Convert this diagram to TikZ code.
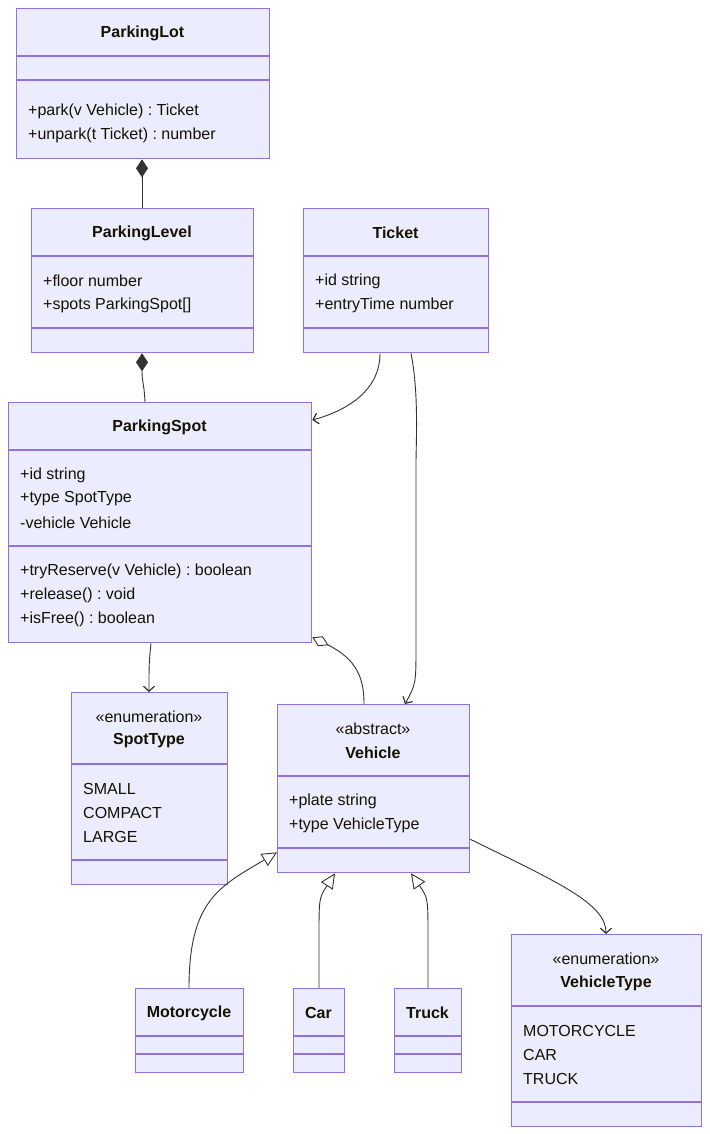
\documentclass[tikz,border=0pt]{standalone}
\usepackage{fontspec}
\setmainfont{Liberation Sans}
\usetikzlibrary{arrows.meta,calc}
\definecolor{boxfill}{HTML}{ECECFF}
\definecolor{boxline}{HTML}{9370DB}
\definecolor{edge}{HTML}{333333}
\definecolor{txt}{HTML}{131300}
\frenchspacing
\tikzset{
  cls/.style={draw=boxline, fill=boxfill, line width=1.3pt, inner sep=0pt, anchor=north west},
  divider/.style={draw=boxline, line width=1.3pt},
  ttl/.style={font=\fontsize{16}{19}\selectfont\bfseries, text=txt, inner sep=0pt, yshift=-2pt},
  ster/.style={font=\fontsize{16}{19}\selectfont, text=txt, inner sep=0pt, yshift=-2pt},
  mem/.style={font=\fontsize{16}{19}\selectfont, text=txt, inner sep=0pt, anchor=west, yshift=-2pt},
  conn/.style={draw=edge, line width=0.9pt},
  compo/.style={conn, {Diamond[length=18pt,width=12pt,fill=edge,color=edge]}-},
  aggr/.style={conn, {Diamond[length=18pt,width=11pt,open,fill=white,color=edge]}-},
  assoc/.style={conn, -{Straight Barb[length=5pt,width=11pt,line width=1.2pt]}},
  gen/.style={conn, -{Triangle[length=15pt,width=14pt,open,fill=white]}},
}
\begin{document}
\begin{tikzpicture}[x=1pt,y=-1pt]
\useasboundingbox (0,0) rectangle (709,1134);

% ParkingLot
\node[cls, minimum width=253pt, minimum height=150pt] (lot) at (16,8) {};
\draw[divider] (16,56) -- (269,56); \draw[divider] (16,80) -- (269,80);
\node[ttl] (lott) at (142.5,31) {ParkingLot};
\node[mem] (lotm1) at (28,109) {+park(v Vehicle) : Ticket};
\node[mem] (lotm2) at (28,133) {+unpark(t Ticket) : number};

% ParkingLevel
\node[cls, minimum width=222pt, minimum height=144pt] (level) at (31,208) {};
\draw[divider] (31,256) -- (253,256); \draw[divider] (31,328) -- (253,328);
\node[ttl] (levelt) at (142,231) {ParkingLevel};
\node[mem] (levela1) at (43,279) {+floor number};
\node[mem] (levela2) at (43,303) {+spots ParkingSpot[]};

% Ticket
\node[cls, minimum width=185pt, minimum height=144pt] (ticket) at (303,208) {};
\draw[divider] (303,256) -- (488,256); \draw[divider] (303,328) -- (488,328);
\node[ttl] (tickett) at (395.5,231) {Ticket};
\node[mem] (tickta1) at (315,279) {+id string};
\node[mem] (tickta2) at (315,303) {+entryTime number};

% ParkingSpot
\node[cls, minimum width=303pt, minimum height=240pt] (spot) at (8,402) {};
\draw[divider] (8,450) -- (311,450); \draw[divider] (8,546) -- (311,546);
\node[ttl] (spott) at (159.5,425) {ParkingSpot};
\node[mem] (spota1) at (20,473) {+id string};
\node[mem] (spota2) at (20,497) {+type SpotType};
\node[mem] (spota3) at (20,521) {-vehicle Vehicle};
\node[mem] (spotm1) at (20,569) {+tryReserve(v Vehicle) : boolean};
\node[mem] (spotm2) at (20,593) {+release() : void};
\node[mem] (spotm3) at (20,617) {+isFree() : boolean};

% SpotType
\node[cls, minimum width=156pt, minimum height=192pt] (stype) at (71,692) {};
\draw[divider] (71,764) -- (227,764); \draw[divider] (71,860) -- (227,860);
\node[ster] (stypes) at (149,715) {«enumeration»};
\node[ttl] (stypet) at (149,739) {SpotType};
\node[mem] (stypev1) at (83,787) {SMALL};
\node[mem] (stypev2) at (83,811) {COMPACT};
\node[mem] (stypev3) at (83,835) {LARGE};

% Vehicle
\node[cls, minimum width=192pt, minimum height=168pt] (veh) at (277,704) {};
\draw[divider] (277,776) -- (469,776); \draw[divider] (277,848) -- (469,848);
\node[ster] (vehs) at (373,727) {«abstract»};
\node[ttl] (veht) at (373,751) {Vehicle};
\node[mem] (veha1) at (289,799) {+plate string};
\node[mem] (veha2) at (289,823) {+type VehicleType};

% Motorcycle
\node[cls, minimum width=108pt, minimum height=84pt] (moto) at (135,988) {};
\draw[divider] (135,1036) -- (243,1036); \draw[divider] (135,1054) -- (243,1054);
\node[ttl] (motot) at (189,1011) {Motorcycle};

% Car
\node[cls, minimum width=51pt, minimum height=84pt] (car) at (293,988) {};
\draw[divider] (293,1036) -- (344,1036); \draw[divider] (293,1054) -- (344,1054);
\node[ttl] (cart) at (318.5,1011) {Car};

% Truck
\node[cls, minimum width=67pt, minimum height=84pt] (truck) at (394,988) {};
\draw[divider] (394,1036) -- (461,1036); \draw[divider] (394,1054) -- (461,1054);
\node[ttl] (truckt) at (427.5,1011) {Truck};

% VehicleType
\node[cls, minimum width=190pt, minimum height=192pt] (vtype) at (511,934) {};
\draw[divider] (511,1006) -- (701,1006); \draw[divider] (511,1102) -- (701,1102);
\node[ster] (vtypes) at (606,957) {«enumeration»};
\node[ttl] (vtypet) at (606,981) {VehicleType};
\node[mem] (vtypev1) at (523,1029) {MOTORCYCLE};
\node[mem] (vtypev2) at (523,1053) {CAR};
\node[mem] (vtypev3) at (523,1077) {TRUCK};

% connectors
\path[compo] ([xshift=126pt]lot.south west) -- ([xshift=111pt]level.north west);
\path[compo] ([xshift=111pt]level.south west) .. controls ([xshift=111pt,yshift=-30pt]level.south west) and ([xshift=136pt,yshift=20pt]spot.north west) .. ([xshift=137pt]spot.north west);
\path[assoc] ([xshift=77pt]ticket.south west) .. controls ([xshift=77pt,yshift=-40pt]ticket.south west) and ([xshift=30pt,yshift=-10pt]spot.north east) .. ([yshift=-18pt]spot.north east);
\path[assoc] ([xshift=108pt]ticket.south west) .. controls ([xshift=116pt,yshift=-40pt]ticket.south west) and ([xshift=113pt,yshift=-90pt]ticket.south west) .. ([xshift=113pt,yshift=-110pt]ticket.south west) -- ([xshift=139pt,yshift=60pt]veh.north west) .. controls ([xshift=139pt,yshift=20pt]veh.north west) .. ([xshift=128pt]veh.north west);
\path[assoc] ([xshift=143pt]spot.south west) .. controls ([xshift=141pt,yshift=-20pt]spot.south west) .. ([xshift=78pt]stype.north west);
\path[aggr] ([yshift=6pt]spot.south east) .. controls ([xshift=45pt,yshift=-16pt]spot.south east) and ([xshift=87pt,yshift=25pt]veh.north west) .. ([xshift=87pt]veh.north west);
\path[gen] ([xshift=54pt]moto.north west) .. controls ([xshift=54pt,yshift=88pt]moto.north west) and ([xshift=-57pt,yshift=-13pt]veh.south west) .. ([yshift=21pt]veh.south west);
\path[gen] ([xshift=26pt]car.north west) -- ([xshift=26pt,yshift=50pt]car.north west) .. controls ([xshift=26pt,yshift=90pt]car.north west) .. ([xshift=58pt]veh.south west);
\path[gen] ([xshift=34pt]truck.north west) -- ([xshift=34pt,yshift=50pt]truck.north west) .. controls ([xshift=34pt,yshift=90pt]truck.north west) .. ([xshift=134pt]veh.south west);
\path[assoc] ([yshift=34pt]veh.south east) .. controls ([xshift=90pt,yshift=-10pt]veh.south east) and ([xshift=95pt,yshift=30pt]vtype.north west) .. ([xshift=95pt]vtype.north west);
\end{tikzpicture}
\end{document}
